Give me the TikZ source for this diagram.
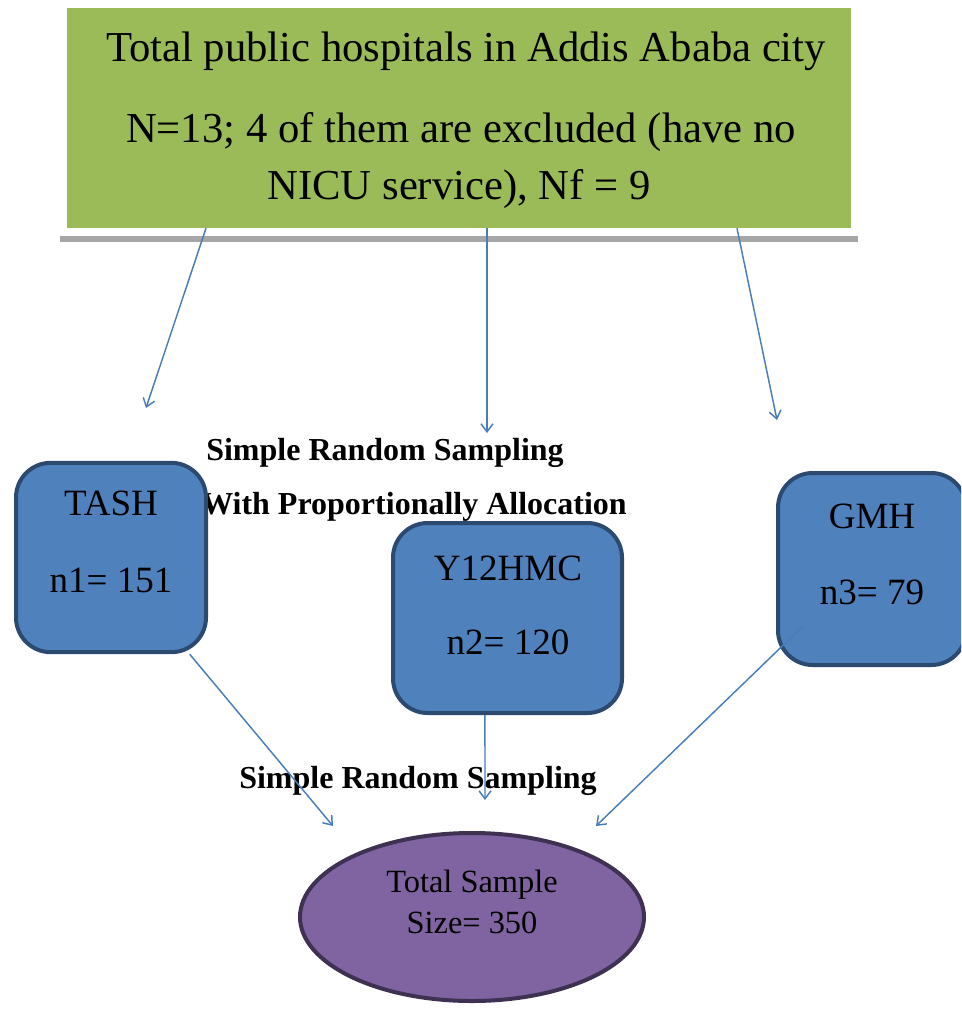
\documentclass[tikz,border=0pt]{standalone}
\usepackage{fontspec}
\setmainfont{Liberation Serif}
\usetikzlibrary{arrows.meta,shapes.geometric}
\definecolor{grn}{HTML}{9BBB59}
\definecolor{shadowgray}{HTML}{A6A6A6}
\definecolor{boxblue}{HTML}{4F81BD}
\definecolor{boxedge}{HTML}{2C4A70}
\definecolor{purp}{HTML}{8064A2}
\definecolor{purpedge}{HTML}{3F3151}
\definecolor{arrowblue}{HTML}{4A7EBB}
\tikzset{
  titletext/.style={anchor=base,inner sep=0,font=\fontsize{32pt}{36pt}\selectfont},
  boldtext/.style={anchor=base,inner sep=0,font=\fontsize{24pt}{28pt}\selectfont\bfseries},
  boxtext/.style={anchor=base,inner sep=0,font=\fontsize{27.8pt}{32pt}\selectfont},
  elltext/.style={anchor=base,inner sep=0,font=\fontsize{24.3pt}{28pt}\selectfont},
  hospbox/.style={draw=boxedge,fill=boxblue,line width=3pt,rounded corners=26pt,inner sep=0},
  arr/.style={draw=arrowblue,line width=1.1pt,-{Straight Barb[length=6pt,width=9pt,line width=1.1pt]}},
}
\begin{document}
\begin{tikzpicture}[x=0.75pt,y=-0.75pt]
\useasboundingbox (0,0) rectangle (961,1011);
\clip (0,0) rectangle (961,1011);
% top box with shadow bar
\fill[shadowgray] (60,236) rectangle (858,241.5);
\node[fill=grn,minimum width=588pt,minimum height=165pt,inner sep=0] (top) at (459,118) {};
\node[titletext] (t1) at (466,61) {Total public hospitals in Addis Ababa city};
\node[titletext] (t2) at (461,142) {N=13; 4 of them are excluded (have no};
\node[titletext] (t3) at (459,199) {NICU service), Nf = 9};
% labels
\node[boldtext] (srs1) at (385,460) {Simple Random Sampling};
\node[boldtext] (wpa) at (414,514) {With Proportionally Allocation};
\node[boldtext] (srs2) at (418,788) {Simple Random Sampling};
% hospital boxes
\node[hospbox,minimum width=142.5pt,minimum height=142pt] (tash) at (111,557.5) {};
\node[boxtext] (tash1) at (111,515) {TASH};
\node[boxtext] (tash2) at (111,592) {n1= 151};
\node[hospbox,minimum width=171.75pt,minimum height=142.5pt] (y12) at (507.5,618) {};
\node[boxtext] (y121) at (508,580) {Y12HMC};
\node[boxtext] (y122) at (508,654) {n2= 120};
\node[hospbox,minimum width=141pt,minimum height=144pt] (gmh) at (872,569) {};
\node[boxtext] (gmh1) at (872,528) {GMH};
\node[boxtext] (gmh2) at (872,604) {n3= 79};
% ellipse
\node[ellipse,draw=purpedge,fill=purp,line width=3pt,minimum width=258pt,minimum height=126pt,inner sep=0] (tot) at (472,917) {};
\node[elltext] (tot1) at (472,892) {Total Sample};
\node[elltext] (tot2) at (472,933) {Size= 350};
% free arrow ends
\coordinate (e1) at (146,408);
\coordinate (e2) at (487,433);
\coordinate (e3) at (777,420);
\coordinate (f1) at (333,826);
\coordinate (f2) at (485,800);
\coordinate (f3) at (596,826);
% arrows
\draw[arr] ([xshift=-189.75pt]top.south) -- (e1);
\draw[arr] ([xshift=21pt]top.south) -- (e2);
\draw[arr] ([xshift=208.5pt]top.south) -- (e3);
\draw[arr] ([xshift=59pt]tash.south) -- (f1);
\draw[arr] ([xshift=-16.9pt]y12.south) -- (f2);
\draw[arr] ([xshift=-51.75pt,yshift=-42.75pt]gmh.center) -- (f3);
\end{tikzpicture}
\end{document}
